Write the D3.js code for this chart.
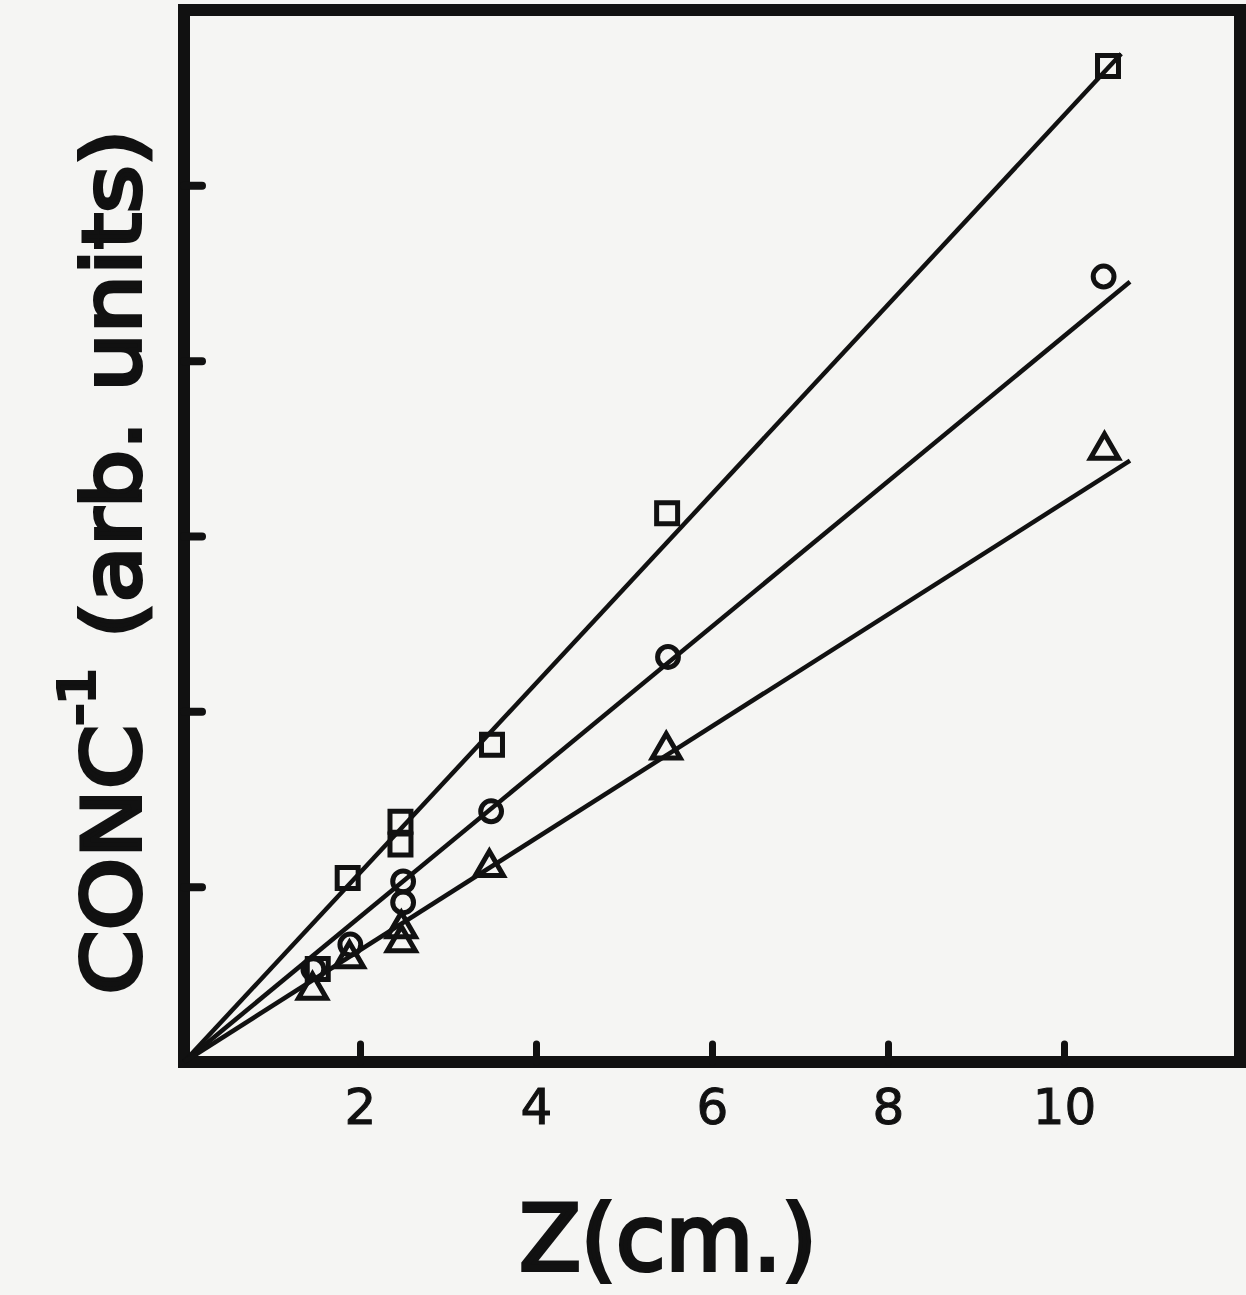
<!DOCTYPE html>
<html>
<head>
<meta charset="utf-8">
<script src="https://cdnjs.cloudflare.com/ajax/libs/d3/7.8.5/d3.min.js"></script>
<style>
body { margin: 0; background: #f5f5f3; }
svg { display: block; }
</style>
</head>
<body>
<svg width="1246" height="1295"></svg>
<script>
// data: z in cm, conc^-1 in tick units
var squareZ = [1.52, 1.86, 2.46, 2.46, 3.50, 5.49, 10.5];
var squareY = [0.53, 1.05, 1.24, 1.37, 1.81, 3.13, 5.68];
var circleZ = [1.47, 1.89, 2.49, 2.49, 3.49, 5.50, 10.45];
var circleY = [0.53, 0.67, 0.91, 1.03, 1.43, 2.31, 4.48];
var triangleZ = [1.46, 1.88, 2.47, 2.47, 3.47, 5.48, 10.46];
var triangleY = [0.41, 0.59, 0.68, 0.76, 1.11, 1.78, 3.49];

// fitted lines all start at origin
var fitEndZ = [10.65, 10.75, 10.75];
var fitEndY = [5.75, 4.45, 3.43];

var xTicks = [2, 4, 6, 8, 10];
var yTicks = [1, 2, 3, 4, 5];

var svg = d3.select("svg");
var ink = "#111";

var x = d3.scaleLinear().domain([0, 12]).range([184, 1240]);
var y = d3.scaleLinear().domain([0, 6]).range([1062, 10]);

//frame
svg.append("rect")
	.attr("x", x(0))
	.attr("y", y(6))
	.attr("width", x(12) - x(0))
	.attr("height", y(0) - y(6))
	.attr("fill", "none")
	.attr("stroke", ink)
	.attr("stroke-width", 12);

//x axis ticks pointing in, labels below
var xAxis = d3.axisBottom(x).tickValues(xTicks).tickSize(-18).tickPadding(26);
var gx = svg.append("g")
	.attr("transform", "translate(0," + y(0) + ")")
	.call(xAxis);
gx.select(".domain").remove();
gx.selectAll(".tick line")
	.attr("stroke", ink)
	.attr("stroke-width", 7)
	.attr("stroke-linecap", "round");
gx.selectAll(".tick text")
	.style("font-family", "DejaVu Sans")
	.style("font-size", "50px")
	.style("font-weight", "normal")
	.attr("fill", ink)
	.attr("stroke", ink)
	.attr("stroke-width", 1);

//y axis ticks only
var yAxis = d3.axisLeft(y).tickValues(yTicks).tickSize(-18).tickFormat("");
var gy = svg.append("g")
	.attr("transform", "translate(" + x(0) + ",0)")
	.call(yAxis);
gy.select(".domain").remove();
gy.selectAll(".tick line")
	.attr("stroke", ink)
	.attr("stroke-width", 8)
	.attr("stroke-linecap", "round");

//fit lines
for (var i = 0; i < fitEndZ.length; i++)
{
	svg.append("line")
		.attr("x1", x(0))
		.attr("y1", y(0))
		.attr("x2", x(fitEndZ[i]))
		.attr("y2", y(fitEndY[i]))
		.attr("stroke", ink)
		.attr("stroke-width", 4.5);
}

function drawPoints(zs, ys, symbol, size)
{
	var pts = zs.map(function(z, k) { return [z, ys[k]]; });
	svg.append("g").selectAll("path")
		.data(pts)
		.enter()
		.append("path")
		.attr("d", d3.symbol().type(symbol).size(size))
		.attr("transform", function(d) { return "translate(" + x(d[0]) + "," + y(d[1]) + ")"; })
		.attr("fill", "none")
		.attr("stroke", ink)
		.attr("stroke-width", 5);
}

drawPoints(squareZ, squareY, d3.symbolSquare, 440);
drawPoints(circleZ, circleY, d3.symbolCircle, 340);
drawPoints(triangleZ, triangleY, d3.symbolTriangle, 340);

//axis titles
svg.append("text")
	.attr("x", 668)
	.attr("y", 1270)
	.attr("text-anchor", "middle")
	.style("font-family", "DejaVu Sans")
	.style("font-size", "90px")
	.attr("fill", ink)
	.attr("stroke", ink)
	.attr("stroke-width", 4)
	.text("Z(cm.)");

var yl = svg.append("text")
	.attr("transform", "translate(140,562) rotate(-90)")
	.attr("text-anchor", "middle")
	.attr("textLength", 865)
	.attr("lengthAdjust", "spacingAndGlyphs")
	.style("font-family", "DejaVu Sans")
	.style("font-size", "80px")
	.attr("fill", ink)
	.attr("stroke", ink)
	.attr("stroke-width", 4);
yl.append("tspan").text("CONC");
yl.append("tspan").attr("dy", -46).style("font-size", "50px").text("-1");
yl.append("tspan").attr("dy", 46).text(" (arb. units)");
</script>
</body>
</html>
